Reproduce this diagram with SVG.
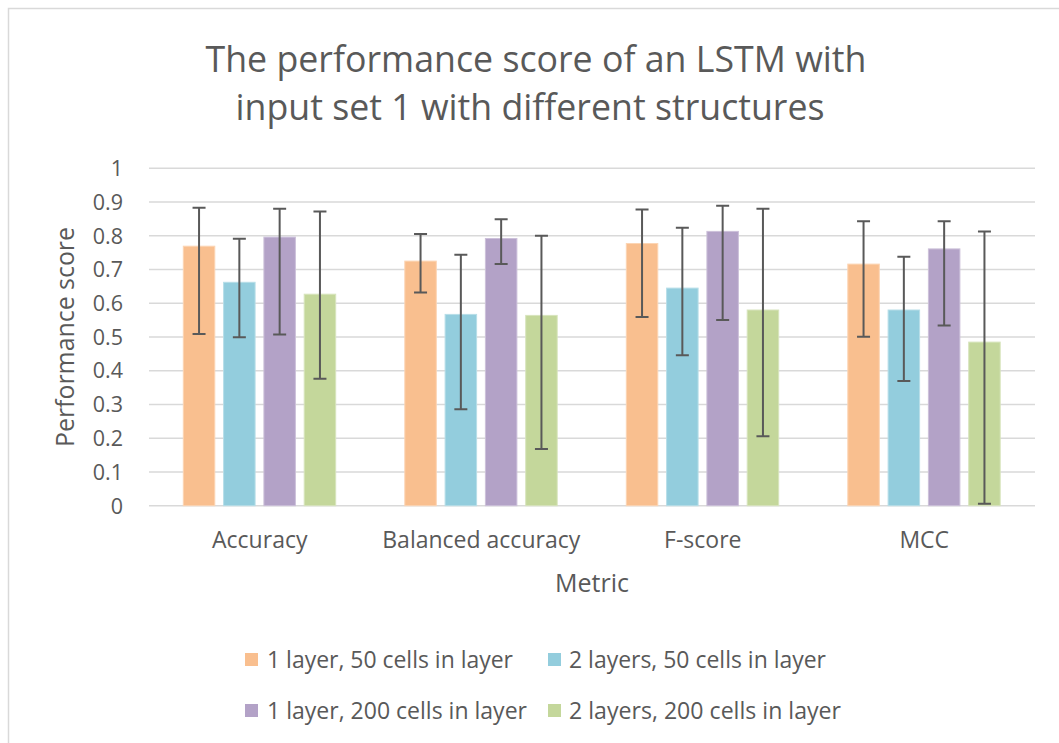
<svg xmlns="http://www.w3.org/2000/svg" width="1059" height="743" viewBox="0 0 1059 743">
<style>
text{font-family:"Open Sans","Liberation Sans",sans-serif;fill:#595959}
.grid{stroke:#d9d9d9;stroke-width:1.5}
.tick{font-size:21.5px;text-anchor:end}
.cat{font-size:23px;text-anchor:middle}
.o{fill:#f9bf8f;stroke:#fcd5b4;stroke-width:1}
.b{fill:#93cddd;stroke:#b7dee8;stroke-width:1}
.p{fill:#b3a2c7;stroke:#ccc0da;stroke-width:1}
.g{fill:#c4d79b;stroke:#d7e4bd;stroke-width:1}
.err{stroke:#595959;stroke-width:2;fill:none}
.leg{font-size:23px}
</style>
<rect x="0" y="0" width="1059" height="743" fill="#ffffff"/>
<rect x="8.5" y="8.5" width="1100" height="800" fill="none" stroke="#d9d9d9" stroke-width="1.5"/>
<g id="title">
<text x="536" y="71.5" font-size="36" text-anchor="middle" textLength="661" lengthAdjust="spacingAndGlyphs">The performance score of an LSTM with</text>
<text x="530" y="119.5" font-size="36" text-anchor="middle" textLength="589" lengthAdjust="spacingAndGlyphs">input set 1 with different structures</text>
</g>
<g id="gridlines">
<line class="grid" x1="149" y1="505.7" x2="1035" y2="505.7"/>
<line class="grid" x1="149" y1="472.0" x2="1035" y2="472.0"/>
<line class="grid" x1="149" y1="438.2" x2="1035" y2="438.2"/>
<line class="grid" x1="149" y1="404.5" x2="1035" y2="404.5"/>
<line class="grid" x1="149" y1="370.7" x2="1035" y2="370.7"/>
<line class="grid" x1="149" y1="337.0" x2="1035" y2="337.0"/>
<line class="grid" x1="149" y1="303.3" x2="1035" y2="303.3"/>
<line class="grid" x1="149" y1="269.5" x2="1035" y2="269.5"/>
<line class="grid" x1="149" y1="235.8" x2="1035" y2="235.8"/>
<line class="grid" x1="149" y1="202.1" x2="1035" y2="202.1"/>
<line class="grid" x1="149" y1="168.3" x2="1035" y2="168.3"/>
</g>
<g id="y-axis">
<text class="tick" x="123" y="513.5">0</text>
<text class="tick" x="123" y="479.5">0.1</text>
<text class="tick" x="123" y="445.5">0.2</text>
<text class="tick" x="123" y="412">0.3</text>
<text class="tick" x="123" y="378">0.4</text>
<text class="tick" x="123" y="344.5">0.5</text>
<text class="tick" x="123" y="311">0.6</text>
<text class="tick" x="123" y="277">0.7</text>
<text class="tick" x="123" y="243.5">0.8</text>
<text class="tick" x="123" y="209.5">0.9</text>
<text class="tick" x="123" y="176">1</text>
<text x="74" y="337" font-size="25" text-anchor="middle" transform="rotate(-90 74 337)" textLength="220" lengthAdjust="spacingAndGlyphs">Performance score</text>
</g>
<g id="bars">
<rect class="o" x="183.3" y="246.2" width="31.5" height="259.5"/>
<rect class="b" x="223.6" y="282.3" width="31.5" height="223.4"/>
<rect class="p" x="263.9" y="237.1" width="31.5" height="268.6"/>
<rect class="g" x="304.2" y="294.2" width="31.5" height="211.5"/>
<rect class="o" x="404.8" y="261.1" width="31.5" height="244.6"/>
<rect class="b" x="445.1" y="314.4" width="31.5" height="191.3"/>
<rect class="p" x="485.4" y="238.5" width="31.5" height="267.2"/>
<rect class="g" x="525.7" y="315.4" width="31.5" height="190.3"/>
<rect class="o" x="626.3" y="243.5" width="31.5" height="262.2"/>
<rect class="b" x="666.6" y="288.1" width="31.5" height="217.6"/>
<rect class="p" x="706.9" y="231.4" width="31.5" height="274.3"/>
<rect class="g" x="747.2" y="310.0" width="31.5" height="195.7"/>
<rect class="o" x="847.8" y="264.1" width="31.5" height="241.6"/>
<rect class="b" x="888.1" y="310.0" width="31.5" height="195.7"/>
<rect class="p" x="928.4" y="248.9" width="31.5" height="256.8"/>
<rect class="g" x="968.7" y="342.1" width="31.5" height="163.6"/>
</g>
<g id="error-bars" class="err">
<path d="M199.05 207.8V334M192.55 207.8h13M192.55 334h13"/>
<path d="M239.35 238.8V337.3M232.85 238.8h13M232.85 337.3h13"/>
<path d="M279.65 208.8V334.6M273.15 208.8h13M273.15 334.6h13"/>
<path d="M319.95 211.5V378.8M313.45 211.5h13M313.45 378.8h13"/>
<path d="M420.55 234.1V292.5M414.05 234.1h13M414.05 292.5h13"/>
<path d="M460.85 254.7V409.2M454.35 254.7h13M454.35 409.2h13"/>
<path d="M501.15 219.2V264.1M494.65 219.2h13M494.65 264.1h13"/>
<path d="M541.45 235.8V449M534.95 235.8h13M534.95 449h13"/>
<path d="M642.05 209.5V317.1M635.55 209.5h13M635.55 317.1h13"/>
<path d="M682.35 227.7V355.2M675.85 227.7h13M675.85 355.2h13"/>
<path d="M722.65 205.7V320.1M716.15 205.7h13M716.15 320.1h13"/>
<path d="M762.95 208.8V436.2M756.45 208.8h13M756.45 436.2h13"/>
<path d="M863.55 221.3V336.7M857.05 221.3h13M857.05 336.7h13"/>
<path d="M903.85 256.7V380.9M897.35 256.7h13M897.35 380.9h13"/>
<path d="M944.15 221.3V325.5M937.65 221.3h13M937.65 325.5h13"/>
<path d="M984.45 231.4V503.7M977.95 231.4h13M977.95 503.7h13"/>
</g>
<g id="x-axis">
<text class="cat" x="259.75" y="548">Accuracy</text>
<text class="cat" x="481.25" y="548">Balanced accuracy</text>
<text class="cat" x="702.75" y="548">F-score</text>
<text class="cat" x="924.25" y="548">MCC</text>
<text x="592" y="592" font-size="25" text-anchor="middle">Metric</text>
</g>
<g id="legend">
<rect x="245" y="653" width="13" height="13" fill="#f9bf8f"/>
<text class="leg" x="267" y="668" textLength="246" lengthAdjust="spacingAndGlyphs">1 layer, 50 cells in layer</text>
<rect x="548" y="653" width="13" height="13" fill="#93cddd"/>
<text class="leg" x="569" y="668" textLength="257" lengthAdjust="spacingAndGlyphs">2 layers, 50 cells in layer</text>
<rect x="245" y="704" width="13" height="13" fill="#b3a2c7"/>
<text class="leg" x="267" y="719" textLength="260" lengthAdjust="spacingAndGlyphs">1 layer, 200 cells in layer</text>
<rect x="548" y="704" width="13" height="13" fill="#c4d79b"/>
<text class="leg" x="569" y="719" textLength="272" lengthAdjust="spacingAndGlyphs">2 layers, 200 cells in layer</text>
</g>
</svg>
